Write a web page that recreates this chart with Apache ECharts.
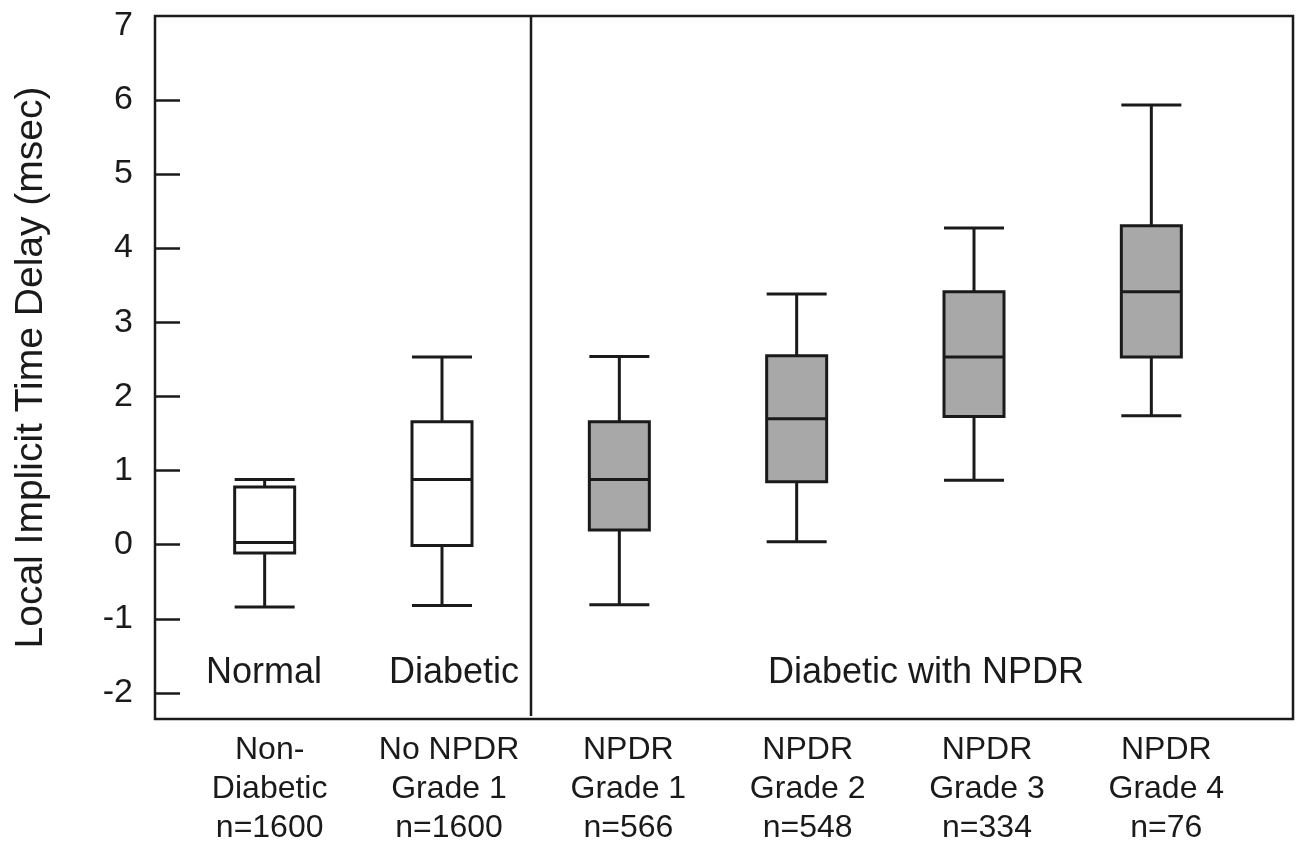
<!DOCTYPE html>
<html>
<head>
    <meta charset="utf-8" />
    <title></title>
    <script src="https://cdn.jsdelivr.net/npm/echarts@6/dist/echarts.min.js"></script>
    <style>
        html, body {
            width: 100%;
            height: 100%;
            margin: 0px;
            padding: 0px;
            background: #fff;
        }
        #main {
            width: 1298px;
            height: 848px;
        }
    </style>
</head>
<body>
    <div id="main"></div>
</body>
<script type="text/javascript">
    // categories (bottom labels, 3 lines each)
    var groupRows = ['Non-', 'No NPDR', 'NPDR', 'NPDR', 'NPDR', 'NPDR'];
    var gradeRows = ['Diabetic', 'Grade 1', 'Grade 1', 'Grade 2', 'Grade 3', 'Grade 4'];
    var counts = [1600, 1600, 566, 548, 334, 76];

    // box values (msec)
    var lowWhisker = [-0.84, -0.82, -0.81, 0.04, 0.87, 1.74];
    var q1 = [-0.11, -0.01, 0.20, 0.85, 1.73, 2.53];
    var median = [0.03, 0.88, 0.88, 1.70, 2.53, 3.41];
    var q3 = [0.78, 1.66, 1.66, 2.55, 3.41, 4.30];
    var highWhisker = [0.88, 2.53, 2.54, 3.38, 4.27, 5.93];

    // y axis: labelled values, and the ones that get a tick mark (none at 7)
    var yLabels = [-2, -1, 0, 1, 2, 3, 4, 5, 6, 7];
    var yTickMarks = [-2, -1, 0, 1, 2, 3, 4, 5, 6];

    // panel captions inside the plot
    var panelNames = ['Normal', 'Diabetic', 'Diabetic with NPDR'];

    var FONT = '"Liberation Sans", Arial, sans-serif';
    var INK = '#1a1a1a';
    var yMin = -2.35, yMax = 7.13;

    var categoryLabels = groupRows.map(function (g, i) {
        return g + '\n' + gradeRows[i] + '\nn=' + counts[i];
    });

    var boxData = median.map(function (m, i) {
        return {
            value: [lowWhisker[i], q1[i], m, q3[i], highWhisker[i]],
            itemStyle: { color: i < 2 ? '#ffffff' : '#a8a8a8' }
        };
    });

    var myChart = echarts.init(document.getElementById('main'));

    myChart.setOption({
        animation: false,
        grid: [
            // frame + y axis
            { left: 155, right: 5, top: 16, bottom: 129, show: true, borderColor: INK, borderWidth: 2.5 },
            // boxes
            { left: 176, right: 58, top: 16, bottom: 129 },
            // bottom labels
            { left: 180, right: 42, top: 16, bottom: 129 }
        ],
        xAxis: [
            { gridIndex: 0, type: 'value', show: false },
            {
                gridIndex: 1, type: 'category', data: categoryLabels, show: false
            },
            {
                gridIndex: 2, type: 'category', data: categoryLabels,
                axisLine: { show: false }, axisTick: { show: false },
                axisLabel: {
                    margin: 13, color: INK, fontFamily: FONT, fontSize: 32, lineHeight: 39,
                    interval: 0
                }
            }
        ],
        yAxis: [
            {
                gridIndex: 0, type: 'value', min: yMin, max: yMax,
                name: 'Local Implicit Time Delay (msec)',
                nameLocation: 'middle', nameGap: 104,
                nameTextStyle: { color: INK, fontFamily: FONT, fontSize: 39 },
                axisLine: { show: false },
                axisTick: {
                    show: true, inside: true, length: 25, customValues: yTickMarks,
                    lineStyle: { color: INK, width: 2.5 }
                },
                splitLine: { show: false },
                axisLabel: {
                    margin: 22, color: INK, fontFamily: FONT, fontSize: 34,
                    customValues: yLabels
                }
            },
            { gridIndex: 1, type: 'value', min: yMin, max: yMax, show: false },
            { gridIndex: 2, type: 'value', min: yMin, max: yMax, show: false }
        ],
        series: [{
            type: 'boxplot',
            xAxisIndex: 1,
            yAxisIndex: 1,
            boxWidth: [60, 60],
            silent: true,
            itemStyle: { borderColor: INK, borderWidth: 3 },
            data: boxData
        }]
    });

    // divider between "Diabetic" and "Diabetic with NPDR", half way between boxes 1 and 2
    var x1 = myChart.convertToPixel({ xAxisIndex: 1 }, 1);
    var x2 = myChart.convertToPixel({ xAxisIndex: 1 }, 2);
    var xDiv = Math.round((x1 + x2) / 2);
    var yTop = myChart.convertToPixel({ yAxisIndex: 0 }, yMax);
    var yBottom = myChart.convertToPixel({ yAxisIndex: 0 }, yMin);

    var captionStyle = { fill: INK, font: '36px ' + FONT, textAlign: 'center', textVerticalAlign: 'middle' };
    myChart.setOption({
        graphic: [
            { type: 'line', shape: { x1: xDiv, y1: yTop, x2: xDiv, y2: yBottom - 3 }, style: { stroke: INK, lineWidth: 2.5 } },
            { type: 'text', x: 264, y: 673, style: Object.assign({ text: panelNames[0] }, captionStyle) },
            { type: 'text', x: 454, y: 673, style: Object.assign({ text: panelNames[1] }, captionStyle) },
            { type: 'text', x: 926, y: 673, style: Object.assign({ text: panelNames[2] }, captionStyle) }
        ]
    });

    window.addEventListener('resize', function () {
        myChart.resize();
    });
</script>
</html>
